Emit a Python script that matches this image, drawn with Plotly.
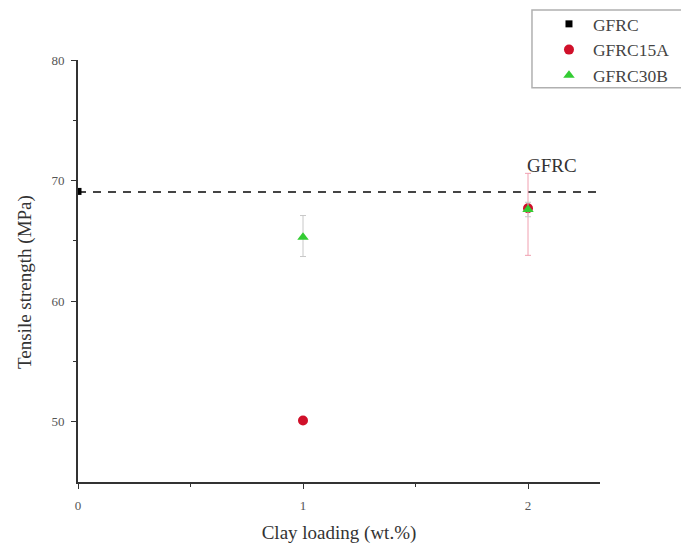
import plotly.graph_objects as go

# Data
gfrc_x = [0]
gfrc_y = [69.1]
gfrc15a_x = [1, 2]
gfrc15a_y = [50.1, 67.7]
gfrc15a_err_plus = [0.0, 2.9]
gfrc15a_err_minus = [0.0, 3.9]
gfrc30b_x = [1, 2]
gfrc30b_y = [65.3, 67.6]
gfrc30b_err_plus = [1.8, 0.6]
gfrc30b_err_minus = [1.6, 0.6]
ref_line_x = [0, 2.32]
ref_line_y = [69.05, 69.05]
x_ticks = [0, 1, 2]
y_ticks = [50, 60, 70, 80]

font_family = "Liberation Serif"

fig = go.Figure()

fig.add_trace(go.Scatter(
    x=ref_line_x, y=ref_line_y, mode="lines",
    line=dict(color="#444444", width=2, dash="8px,7px"),
    showlegend=False, hoverinfo="skip"))

fig.add_trace(go.Scatter(
    x=gfrc_x, y=gfrc_y, mode="markers", name="GFRC",
    marker=dict(symbol="square", size=7, color="black")))

fig.add_trace(go.Scatter(
    x=gfrc15a_x, y=gfrc15a_y, mode="markers", name="GFRC15A",
    marker=dict(symbol="circle", size=10, color="#d0102a"),
    error_y=dict(type="data", symmetric=False, array=gfrc15a_err_plus,
                 arrayminus=gfrc15a_err_minus, color="#f0a0b0",
                 thickness=1, width=3)))

fig.add_trace(go.Scatter(
    x=gfrc30b_x, y=gfrc30b_y, mode="markers", name="GFRC30B",
    marker=dict(symbol="triangle-up", size=10, color="#33cc33"),
    error_y=dict(type="data", symmetric=False, array=gfrc30b_err_plus,
                 arrayminus=gfrc30b_err_minus, color="#c8c8c8",
                 thickness=1, width=3)))

fig.add_annotation(x=2, y=69.05, text="GFRC", showarrow=False,
                   xanchor="left", yanchor="bottom", yshift=14, xshift=-3,
                   font=dict(family=font_family, size=19, color="#333333"))

# y axis title (placed slightly below the axis centre, as in the original)
fig.add_annotation(xref="paper", yref="paper", x=-0.1015, y=0.474,
                   text="Tensile strength (MPa)", textangle=-90, showarrow=False,
                   xanchor="center", yanchor="middle",
                   font=dict(family=font_family, size=19, color="#333333"))

# legend frame
fig.add_shape(type="rect", xref="paper", yref="paper",
              x0=0.8697, x1=1.3, y0=0.934, y1=1.1185,
              line=dict(color="#b0b0b0", width=1.5), fillcolor="white", layer="below")

fig.update_layout(
    width=681, height=544,
    margin=dict(l=78, r=81, t=60, b=62, autoexpand=False),
    paper_bgcolor="white", plot_bgcolor="white",
    font=dict(family=font_family, color="#333333"),
    showlegend=True,
    legend=dict(x=0.8946, y=1.128, xanchor="left", yanchor="top",
                borderwidth=0, bgcolor="rgba(0,0,0,0)",
                font=dict(family=font_family, size=17.5, color="#444444"),
                itemsizing="trace", itemwidth=38, tracegroupgap=0),
    xaxis=dict(range=[0, 2.32], tickvals=x_ticks, showgrid=False, zeroline=False,
               showline=True, linecolor="#333333", linewidth=2,
               ticks="outside", ticklen=5, tickcolor="#333333", ticklabelstandoff=5,
               minor=dict(tickvals=[0.5, 1.5], ticks="outside", ticklen=3, tickcolor="#333333"),
               tickfont=dict(family=font_family, size=13, color="#555555"),
               title=dict(text="Clay loading (wt.%)", standoff=14,
                          font=dict(family=font_family, size=19, color="#333333"))),
    yaxis=dict(range=[45, 80], tickvals=y_ticks, showgrid=False, zeroline=False,
               showline=True, linecolor="#333333", linewidth=2,
               ticks="outside", ticklen=5, tickcolor="#333333", ticklabelstandoff=4,
               minor=dict(tickvals=[55, 65, 75], ticks="outside", ticklen=3, tickcolor="#333333"),
               tickfont=dict(family=font_family, size=13, color="#555555")),
)

fig.write_html("out.html")
